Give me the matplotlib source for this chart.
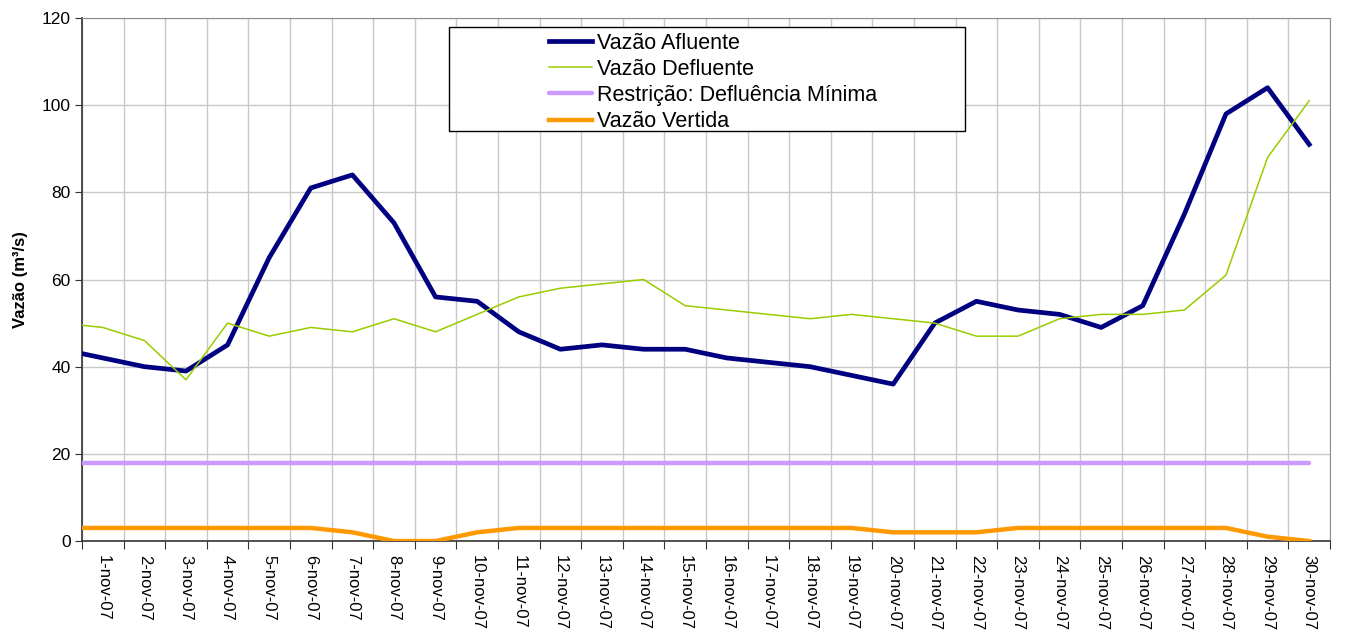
import numpy as np
import pandas as pd
import matplotlib
matplotlib.use("Agg")
import matplotlib.pyplot as plt
from matplotlib.patches import Rectangle

plt.rcParams['font.family'] = ['Liberation Sans', 'DejaVu Sans']

# first value is the reading at the start of 1-nov, the rest are daily (mid-day) values
afluente = [43, 42, 40, 39, 45, 65, 81, 84, 73, 56, 55, 48, 44, 45, 44, 44, 42, 41, 40, 38,
            36, 50, 55, 53, 52, 49, 54, 75, 98, 104, 91]
defluente = [49.5, 49, 46, 37, 50, 47, 49, 48, 51, 48, 52, 56, 58, 59, 60, 54, 53, 52, 51, 52,
             51, 50, 47, 47, 51, 52, 52, 53, 61, 88, 101]
restricao = [18] * 31
vertida = [3, 3, 3, 3, 3, 3, 3, 2, 0, 0, 2, 3, 3, 3, 3, 3, 3, 3, 3, 3,
           2, 2, 2, 3, 3, 3, 3, 3, 3, 1, 0]

days = pd.date_range("2007-11-01", "2007-11-30", freq="D")
times = [days[0]] + list(days + pd.Timedelta(hours=12))
tick_labels = [f"{d.day}-nov-07" for d in days]

fig = plt.figure(figsize=(13.46, 6.33), dpi=100)
ax = fig.add_axes([0.0609, 0.1453, 0.9272, 0.8263])

ax.plot(times, afluente, color="#000080", lw=3.4, solid_joinstyle="round", label="Vazão Afluente", zorder=3)
ax.plot(times, defluente, color="#99CC00", lw=1.1, label="Vazão Defluente", zorder=4)
ax.plot(times, restricao, color="#CC99FF", lw=3.2, solid_capstyle="round", label="Restrição: Defluência Mínima", zorder=3)
ax.plot(times, vertida, color="#FF9900", lw=3.2, label="Vazão Vertida", zorder=3)

ax.set_xlim(pd.Timestamp("2007-11-01"), pd.Timestamp("2007-12-01"))
ax.set_ylim(0, 120)
ax.set_yticks(np.arange(0, 121, 20))
ax.tick_params(axis="y", labelsize=12.5, length=5, direction="out", color="#333333", pad=3)

ax.set_xticks(list(days) + [pd.Timestamp("2007-12-01")])
ax.set_xticklabels([])
ax.set_xticks(days + pd.Timedelta(hours=12), minor=True)
ax.set_xticklabels(tick_labels, minor=True, rotation=270, fontsize=12, va="top", ha="center")
ax.tick_params(axis="x", which="major", length=6, color="#333333")
ax.tick_params(axis="x", which="minor", length=0, pad=10)

ax.grid(True, which="major", color="#c8c8c8", lw=1)
ax.set_axisbelow(True)
for s in ["top", "right"]:
    ax.spines[s].set_color("#8c8c8c")
for s in ["left", "bottom"]:
    ax.spines[s].set_color("#333333")
    ax.spines[s].set_linewidth(1.2)

ax.set_ylabel("Vazão (m³/s)", fontsize=12, fontweight="bold", labelpad=10)

# legend box (wide frame like the original)
fig.patches.append(Rectangle((449 / 1346, 1 - 131 / 633), 516 / 1346, 104 / 633,
                             transform=fig.transFigure, facecolor="white",
                             edgecolor="black", lw=1, zorder=5))
leg = fig.legend(loc="upper left", bbox_to_anchor=(540 / 1346, 1 - 24 / 633), frameon=False,
                 fontsize=15.5, handlelength=2.0, handletextpad=0.25, labelspacing=0.24,
                 borderaxespad=0)
leg.set_zorder(6)

fig.savefig("out.png", dpi=100)
